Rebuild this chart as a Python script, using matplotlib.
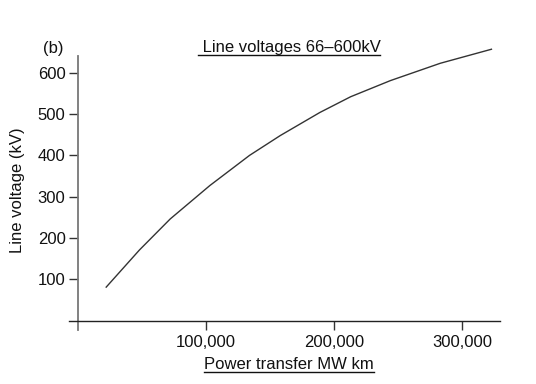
import matplotlib.pyplot as plt
from matplotlib.lines import Line2D

plt.rcParams['font.family'] = ['Liberation Sans', 'DejaVu Sans']

# kurva odčitana s slike
moc = [22000, 48000, 72000, 103000, 134000, 158000, 189000, 213000, 244000, 283000, 323000]
napetost = [81, 171, 246, 327, 400, 448, 504, 542, 581, 623, 657]

x_ticks = [100000, 200000, 300000]
x_labels = ['100,000', '200,000', '300,000']
y_ticks = [100, 200, 300, 400, 500, 600]

fig = plt.figure(figsize=(5.36, 3.84), dpi=100)
W, H = 536, 384
# os: x od -8000 do 335000, y od -25 do 645
ax = fig.add_axes([67.8 / W, 1 - 330.9 / H, 439 / W, 276.7 / H])
ax.set_xlim(-8000, 335000)
ax.set_ylim(-25, 645)

ax.plot(moc, napetost, color='#333333', linewidth=1.0, clip_on=False)

for s in ['top', 'right']:
    ax.spines[s].set_visible(False)
ax.spines['left'].set_position(('data', 0))
ax.spines['bottom'].set_position(('data', 0))
ax.spines['left'].set_bounds(-22, 640)
ax.spines['bottom'].set_bounds(-7000, 330000)
ax.spines['left'].set_color('#777777')
ax.spines['left'].set_linewidth(1.3)
ax.spines['bottom'].set_color('#222222')
ax.spines['bottom'].set_linewidth(1.0)

ax.set_xticks(x_ticks)
ax.set_xticklabels(x_labels)
ax.set_yticks(y_ticks)
ax.tick_params(axis='both', direction='out', length=6.5, width=1.0,
               color='#333333', labelsize=12, labelcolor='#111111')
ax.tick_params(axis='x', pad=4)
ax.tick_params(axis='y', pad=2.5)

fig.text(18 / W, 1 - 190 / H, 'Line voltage (kV)', rotation=90,
         ha='center', va='center', fontsize=12, color='#111111')
fig.text(53 / W, 1 - 48 / H, '(b)', ha='center', va='center',
         fontsize=12, color='#111111')

naslov = fig.text(289 / W, 1 - 52 / H, ' Line voltages 66\u2013600kV',
                  ha='center', va='baseline', fontsize=12, color='#111111')
xos = fig.text(289 / W, 1 - 369 / H, 'Power transfer MW km',
               ha='center', va='baseline', fontsize=12, color='#111111')

# podčrtaj besedilo
fig.canvas.draw()
r = fig.canvas.get_renderer()
for t, yy in [(naslov, 54.5), (xos, 371.5)]:
    bb = t.get_window_extent(r)
    fy = 1 - yy / H
    fig.add_artist(Line2D([bb.x0 / W, bb.x1 / W], [fy, fy],
                          transform=fig.transFigure, color='#111111', linewidth=1.0))

fig.savefig('out.png', dpi=100)
